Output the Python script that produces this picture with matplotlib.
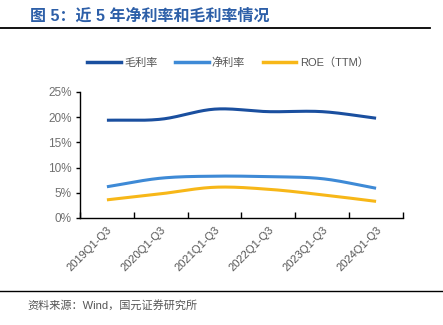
import matplotlib.pyplot as plt
import numpy as np
from matplotlib.lines import Line2D

plt.rcParams['font.family'] = ['Liberation Sans', 'Noto Sans CJK SC']

periods = ['2019Q1-Q3', '2020Q1-Q3', '2021Q1-Q3', '2022Q1-Q3', '2023Q1-Q3', '2024Q1-Q3']
gross_margin = [19.4, 19.6, 21.6, 21.1, 21.1, 19.8]
net_margin = [6.2, 7.9, 8.3, 8.2, 7.8, 5.9]
roe_ttm = [3.6, 4.8, 6.1, 5.7, 4.6, 3.3]

names = ['毛利率', '净利率', 'ROE（TTM）']
colors = ['#1a4f9f', '#3e8ad6', '#f7b718']


def smooth(y, n=30):
    # Catmull-Rom curve through the points, for a rounded line
    y = np.asarray(y, dtype=float)
    p = np.concatenate([[2 * y[0] - y[1]], y, [2 * y[-1] - y[-2]]])
    xs, ys = [], []
    for i in range(len(y) - 1):
        t = np.linspace(0, 1, n, endpoint=False)
        p0, p1, p2, p3 = p[i], p[i + 1], p[i + 2], p[i + 3]
        seg = 0.5 * (2 * p1 + (-p0 + p2) * t + (2 * p0 - 5 * p1 + 4 * p2 - p3) * t ** 2
                     + (-p0 + 3 * p1 - 3 * p2 + p3) * t ** 3)
        xs.append(i + t)
        ys.append(seg)
    xs.append([len(y) - 1])
    ys.append([y[-1]])
    return np.concatenate(xs), np.concatenate(ys)


fig = plt.figure(figsize=(4.43, 3.25), dpi=100)
ax = fig.add_axes([80 / 443, 1 - 218 / 325, 323 / 443, 126 / 325])

for vals, c in zip([gross_margin, net_margin, roe_ttm], colors):
    xs, ys = smooth(vals)
    ax.plot(xs, ys / 100, color=c, lw=2.2, solid_capstyle='butt')

ax.set_xlim(-0.5, len(periods) - 0.5)
ax.set_ylim(0, 0.25)
ax.set_yticks(np.arange(0, 0.26, 0.05))
ax.set_yticklabels([f'{int(round(v * 100))}%' for v in np.arange(0, 0.26, 0.05)])
ax.set_xticks(np.arange(-0.5, len(periods)), minor=False)
ax.set_xticklabels([])
ax.set_xticks(np.arange(len(periods)), minor=True)
ax.set_xticklabels(periods, minor=True, rotation=45, ha='right', rotation_mode='anchor')
ax.tick_params(axis='x', which='major', direction='in', length=4, width=1)
ax.tick_params(axis='x', which='minor', length=0, pad=5, labelsize=8, labelcolor='#555555')
ax.tick_params(axis='y', direction='out', length=3, width=1, labelsize=8.5, labelcolor='#707070', pad=3)
for s in ['top', 'right']:
    ax.spines[s].set_visible(False)
for s in ['left', 'bottom']:
    ax.spines[s].set_linewidth(1)

handles = [Line2D([0], [0], color=c, lw=2.5) for c in colors]
fig.legend(handles, names, loc='center', bbox_to_anchor=(228 / 443, 1 - 63 / 325), ncol=3,
           frameon=False, fontsize=8, handlelength=3.0, columnspacing=1.6, handletextpad=0.3,
           labelcolor='#555555')

fig.text(30 / 443, 1 - 16 / 325, '图 5：近 5 年净利率和毛利率情况', fontsize=11.5, fontweight='bold',
         color='#2d5fa8', va='center')
fig.add_artist(Line2D([0, 430 / 443], [1 - 28 / 325, 1 - 28 / 325], color='black', lw=1.3))
fig.add_artist(Line2D([0, 1], [1 - 291 / 325, 1 - 291 / 325], color='black', lw=1.0))
fig.text(27 / 443, 1 - 305 / 325, '资料来源：Wind，国元证券研究所', fontsize=8, color='#555555', va='center')

fig.savefig('out.png', dpi=100)
